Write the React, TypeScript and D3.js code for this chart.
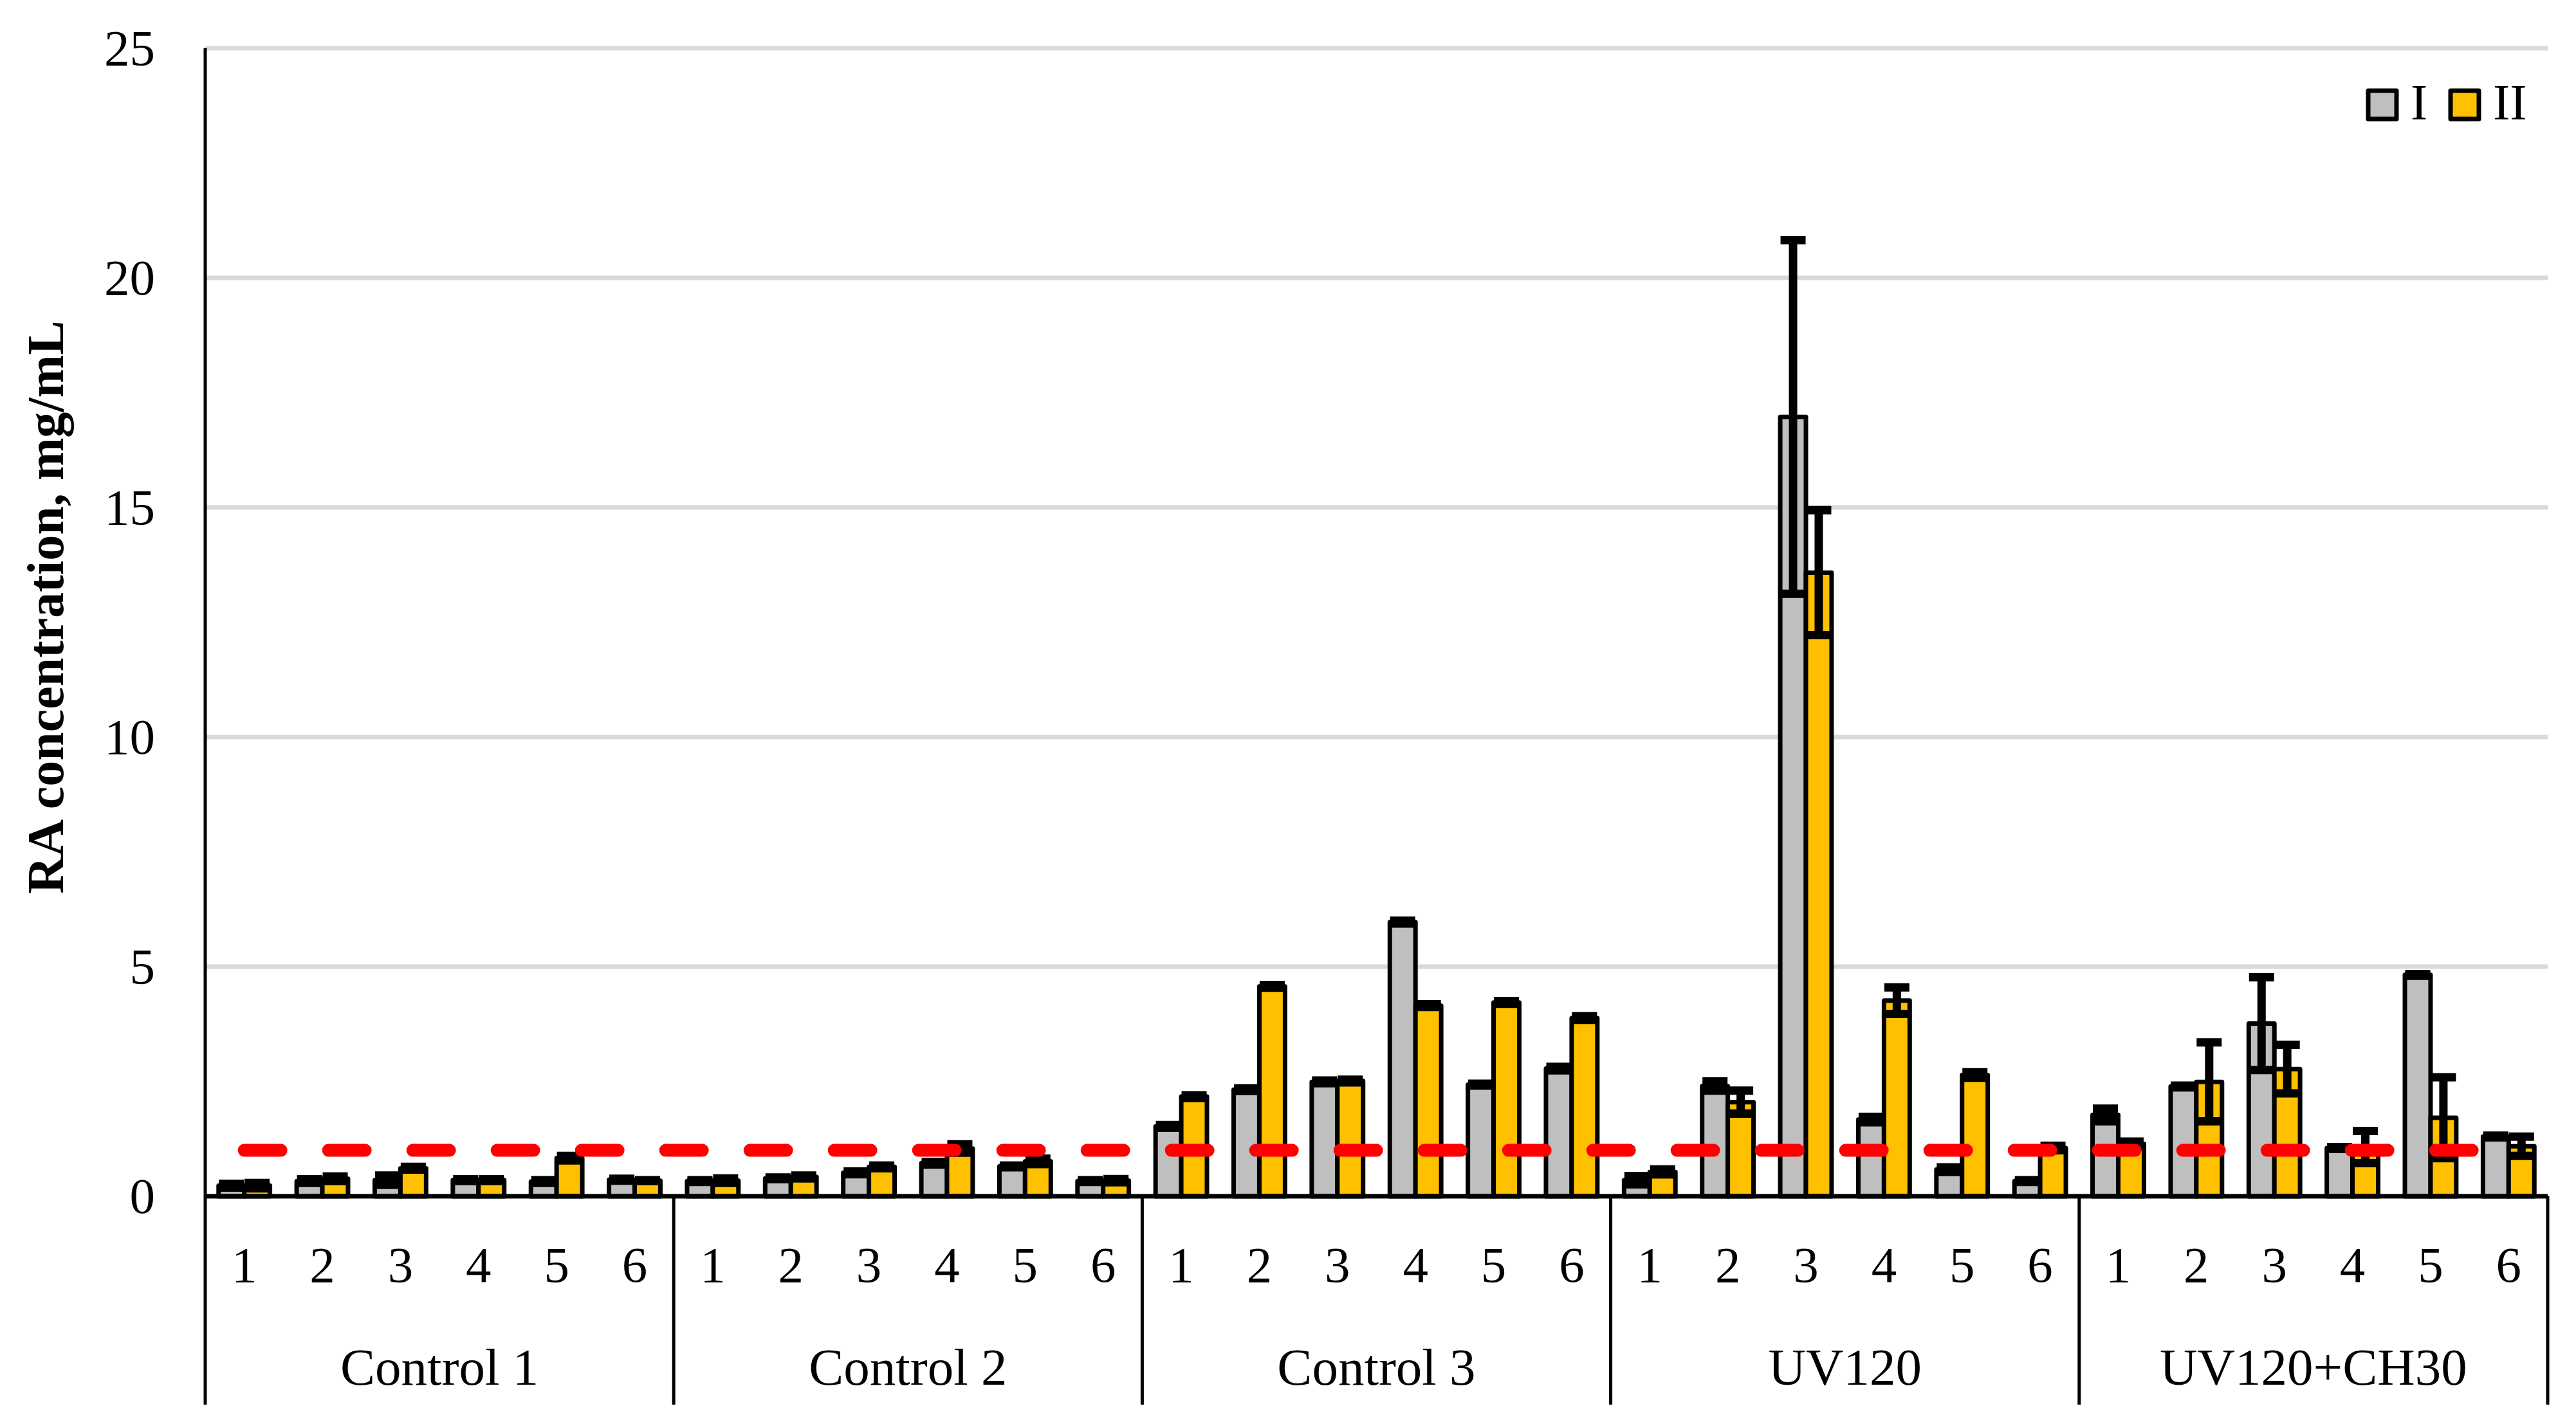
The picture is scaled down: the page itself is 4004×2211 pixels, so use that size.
import React from 'react';
import * as d3 from 'd3';

// chart data
const groups = ['Control 1', 'Control 2', 'Control 3', 'UV120', 'UV120+CH30'];
const samples = ['1', '2', '3', '4', '5', '6'];
const seriesNames = ['I', 'II'];

const valuesI = [
  0.23, 0.33, 0.35, 0.35, 0.32, 0.36,
  0.33, 0.39, 0.51, 0.72, 0.65, 0.33,
  1.52, 2.32, 2.49, 5.97, 2.43, 2.78,
  0.35, 2.4, 16.97, 1.67, 0.58, 0.33,
  1.77, 2.39, 3.76, 1.05, 4.82, 1.3,
];
const errorsI = [
  0.04, 0.04, 0.1, 0.02, 0.03, 0.02,
  0.02, 0.02, 0.03, 0.03, 0.02, 0.02,
  0.03, 0.03, 0.03, 0.03, 0.02, 0.04,
  0.09, 0.1, 3.85, 0.06, 0.05, 0.02,
  0.14, 0.02, 1.01, 0.02, 0.02, 0.02,
];
const valuesII = [
  0.23, 0.38, 0.61, 0.35, 0.83, 0.34,
  0.34, 0.42, 0.64, 1.04, 0.76, 0.34,
  2.17, 4.57, 2.51, 4.15, 4.22, 3.88,
  0.53, 2.05, 13.58, 4.26, 2.64, 1.05,
  1.14, 2.49, 2.77, 1.07, 1.71, 1.09,
];
const errorsII = [
  0.06, 0.05, 0.03, 0.02, 0.05, 0.01,
  0.05, 0.03, 0.03, 0.09, 0.06, 0.035,
  0.03, 0.03, 0.03, 0.03, 0.03, 0.04,
  0.055, 0.25, 1.36, 0.29, 0.06, 0.05,
  0.05, 0.86, 0.53, 0.35, 0.88, 0.21,
];
const threshold = 1;
const yTicks = [0, 5, 10, 15, 20, 25];

const W = 4004;
const H = 2211;
const margin = { top: 75, left: 319, right: 44, bottom: 351 };
const font = '"Liberation Serif", "Times New Roman", serif';
const colors: Record<string, string> = { I: '#BFBFBF', II: '#FFC000' };

const App: React.FC = () => {
  const keys = groups.flatMap((g) => samples.map((s) => `${g}|${s}`));
  const rows = keys.map((key, i) => ({
    key,
    sample: key.split('|')[1],
    bars: [
      { name: 'I', value: valuesI[i], err: errorsI[i] },
      { name: 'II', value: valuesII[i], err: errorsII[i] },
    ],
  }));

  const x0 = d3
    .scaleBand()
    .domain(keys)
    .range([margin.left, W - margin.right])
    .padding(0);
  const x1 = d3
    .scaleBand()
    .domain(seriesNames)
    .range([0, x0.bandwidth()])
    .paddingInner(0)
    .paddingOuter(0.52);
  const y = d3
    .scaleLinear()
    .domain([0, 25])
    .range([H - margin.bottom, margin.top]);

  const y0 = y(0);
  const bottomLine = 2184;
  const groupEdge = (gi: number) => x0(`${groups[gi]}|1`)!;
  const plotRight = x0.range()[1];
  const capW = 39;

  const first = rows[0].key;
  const last = rows[rows.length - 1].key;
  const lineX1 = x0(first)! + x0.bandwidth() / 2;
  const lineX2 = x0(last)! + x0.bandwidth() / 2;

  return (
    <svg
      width={W}
      height={H}
      style={{ position: 'absolute', left: 0, top: 0, background: '#fff' }}
      fontFamily={font}
    >
      {/* gridlines */}
      {yTicks
        .filter((t) => t > 0)
        .map((t) => (
          <line
            key={t}
            x1={margin.left}
            x2={plotRight}
            y1={y(t)}
            y2={y(t)}
            stroke="#D9D9D9"
            strokeWidth={7}
          />
        ))}

      {/* bars */}
      {rows.map((r) =>
        r.bars.map((b) => (
          <rect
            key={r.key + b.name}
            x={x0(r.key)! + x1(b.name)!}
            y={y(b.value)}
            width={x1.bandwidth()}
            height={y0 - y(b.value)}
            fill={colors[b.name]}
            stroke="#000"
            strokeWidth={7}
            strokeLinejoin="round"
          />
        ))
      )}

      {/* error bars */}
      {rows.map((r) =>
        r.bars.map((b) => {
          const cx = x0(r.key)! + x1(b.name)! + x1.bandwidth() / 2;
          const top = y(b.value + b.err);
          const bot = y(b.value - b.err);
          return (
            <g key={'e' + r.key + b.name} stroke="#000" strokeWidth={13}>
              <line x1={cx} x2={cx} y1={top} y2={bot} />
              <line x1={cx - capW / 2} x2={cx + capW / 2} y1={top} y2={top} />
              <line x1={cx - capW / 2} x2={cx + capW / 2} y1={bot} y2={bot} />
            </g>
          );
        })
      )}

      {/* threshold line */}
      <line
        x1={lineX1}
        x2={lineX2}
        y1={y(threshold)}
        y2={y(threshold)}
        stroke="#FF0000"
        strokeWidth={20}
        strokeLinecap="round"
        strokeDasharray="57 74"
      />

      {/* axes */}
      <line x1={margin.left} x2={margin.left} y1={margin.top} y2={bottomLine} stroke="#000" strokeWidth={5} />
      <line x1={margin.left} x2={plotRight} y1={y0} y2={y0} stroke="#000" strokeWidth={7} />
      {groups.map((g, gi) => (
        <line
          key={'sep' + g}
          x1={gi === 0 ? plotRight : groupEdge(gi)}
          x2={gi === 0 ? plotRight : groupEdge(gi)}
          y1={y0}
          y2={bottomLine}
          stroke="#000"
          strokeWidth={5}
        />
      ))}

      {/* y tick labels */}
      {yTicks.map((t) => (
        <text key={'yt' + t} x={241} y={y(t) + 26} textAnchor="end" fontSize={79}>
          {t}
        </text>
      ))}

      {/* sample labels */}
      {rows.map((r) => (
        <text
          key={'xl' + r.key}
          x={x0(r.key)! + x0.bandwidth() / 2}
          y={1993}
          textAnchor="middle"
          fontSize={79}
        >
          {r.sample}
        </text>
      ))}

      {/* group labels */}
      {groups.map((g, gi) => {
        const x = groupEdge(gi) + (x0.bandwidth() * samples.length) / 2;
        return (
          <text key={'g' + g} x={x} y={2153} textAnchor="middle" fontSize={81}>
            {g}
          </text>
        );
      })}

      {/* y axis title */}
      <text
        transform="translate(98,944) rotate(-90)"
        textAnchor="middle"
        fontSize={80}
        fontWeight="bold"
      >
        RA concentration, mg/mL
      </text>

      {/* legend */}
      {seriesNames.map((s, i) => {
        const lx = 3681 + i * 128;
        return (
          <g key={'lg' + s}>
            <rect x={lx} y={141} width={44} height={44} fill={colors[s]} stroke="#000" strokeWidth={7} strokeLinejoin="round" />
            <text x={lx + 66} y={185} fontSize={79}>
              {s}
            </text>
          </g>
        );
      })}
    </svg>
  );
};

export default App;
